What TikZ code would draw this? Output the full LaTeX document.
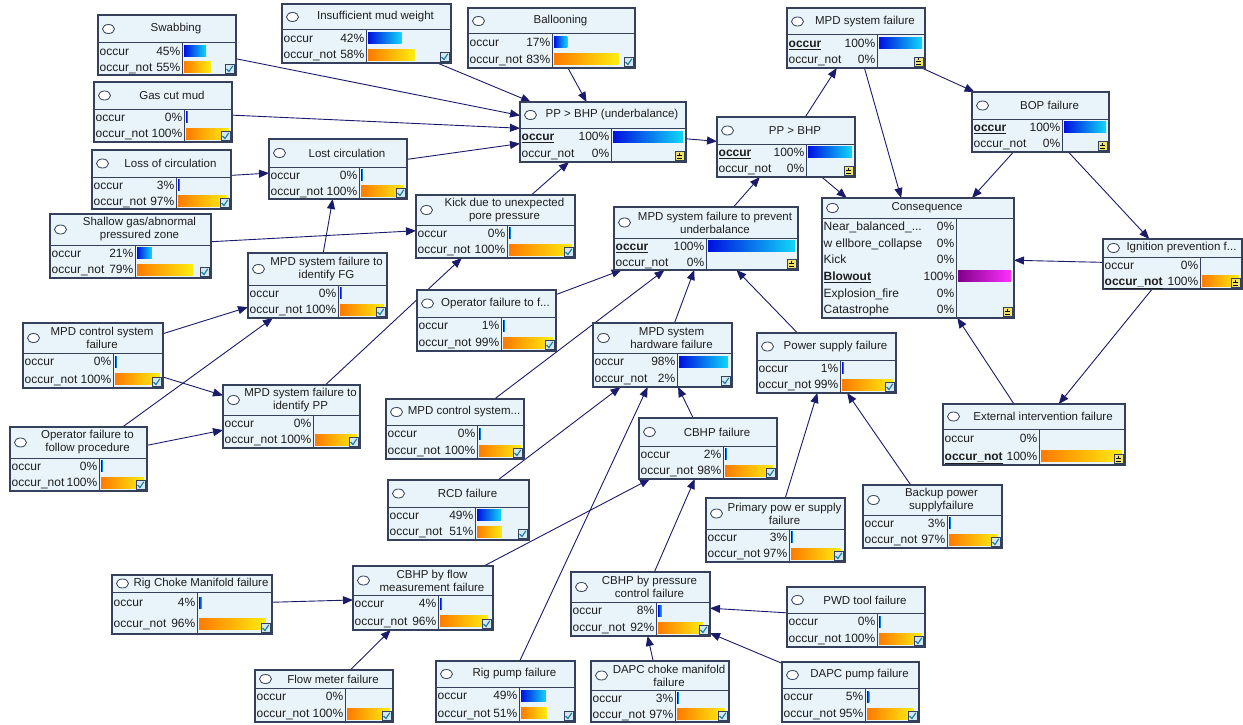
\documentclass[tikz,border=0pt]{standalone}
\usepackage{fontspec}
\setmainfont{Liberation Sans}
\usetikzlibrary{arrows.meta,backgrounds}
\definecolor{bfill}{HTML}{E8F4F9}
\definecolor{bdr}{HTML}{35405C}
\definecolor{arc}{HTML}{1B1B6B}
\definecolor{bluA}{HTML}{0010E0}
\definecolor{bluB}{HTML}{10D8F8}
\definecolor{orA}{HTML}{FF7A00}
\definecolor{orB}{HTML}{FFEE10}
\definecolor{mgA}{HTML}{80008A}
\definecolor{mgB}{HTML}{FF30FF}
\definecolor{ckfill}{HTML}{D4E8F2}
\definecolor{cktick}{HTML}{1F7FA0}
\definecolor{evfill}{HTML}{F2E46A}
\definecolor{txt}{HTML}{1E1E1E}
\tikzset{
 box/.style={draw=bdr, line width=1.1pt, fill=bfill, rectangle, inner sep=0pt, outer sep=0pt, anchor=north west},
 bd/.style={draw=bdr, line width=1pt},
 ttl/.style={font=\fontsize{11.5}{13}\selectfont, align=center, inner sep=0pt, text=txt},
 lbl/.style={font=\fontsize{12}{13}\selectfont, inner sep=0pt, text=txt},
 arr/.style={draw=arc, line width=0.9pt, -{Triangle[length=10pt,width=8pt]}},
 ob/.style={left color=bluA, right color=bluB},
 oy/.style={left color=orA, right color=orB},
 mg/.style={left color=mgA, right color=mgB},
 nb/.style={}
}
\newcommand\bbox[8]{%
 \gdef\Bx{#2}\gdef\By{#3}\gdef\Bw{#4}\gdef\Bh{#5}\gdef\Bt{#6}\gdef\Bd{#7}%
 \node[box, minimum width=#4pt, minimum height=#5pt] (#1) at (#2,#3) {};
 \begin{scope}[shift={(#2,#3)}]
  \draw[bd] (0,#6) -- (#4,#6);
  \draw[bd] (#7,#6) -- (#7,#5);
  \draw[draw=bdr, fill=white, line width=0.8pt] (10.5,{#6/2}) ellipse [x radius=6pt, y radius=4.5pt];
  \node[ttl] at ({(#4+18)/2},{#6/2}) {#8};
 \end{scope}}
\newcommand\brow[5]{%
 \begin{scope}[shift={(\Bx,\By)}]
  \pgfmathsetmacro\Ry{\Bt+(\Bh-\Bt)*(#1-0.5)/#2}
  \pgfmathsetmacro\Rl{max(#4*(\Bw-\Bd-5)/100,1.8)}
  \node[lbl, anchor=base west] at (1.5,\Ry+4.2) {#3};
  \node[lbl, anchor=base east] at (\Bd-1.5,\Ry+4.2) {#4\%};
  \path[#5] (\Bd+2,\Ry-5.5) rectangle ({\Bd+2+\Rl},\Ry+5.5);
 \end{scope}}
\newcommand\bck{%
 \begin{scope}[shift={(\Bx,\By)}]
  \draw[draw=bdr, fill=ckfill, line width=0.6pt] (\Bw-11,\Bh-11) rectangle (\Bw-2,\Bh-2);
  \draw[draw=cktick, line width=1.2pt] (\Bw-9.5,\Bh-6) -- (\Bw-7,\Bh-3.5) -- (\Bw-3.2,\Bh-9.2);
 \end{scope}}
\newcommand\bev{%
 \begin{scope}[shift={(\Bx,\By)}]
  \draw[draw=bdr, fill=evfill, line width=0.6pt] (\Bw-11,\Bh-11) rectangle (\Bw-2,\Bh-2);
  \draw[draw=black, line width=0.8pt] (\Bw-9,\Bh-6.5) -- (\Bw-4,\Bh-6.5) (\Bw-6.5,\Bh-9.5) -- (\Bw-6.5,\Bh-7.5) (\Bw-9,\Bh-4) -- (\Bw-4,\Bh-4);
 \end{scope}}
\begin{document}
\begin{tikzpicture}[x=1pt,y=-1pt]
\useasboundingbox (0,0) rectangle (1243,725);
\begin{pgfonlayer}{background}
\fill[white] (0,0) rectangle (1243,725);
\end{pgfonlayer}

\bbox{swab}{98}{15}{138}{60}{28}{84}{Swabbing}
\brow{1}{2}{occur}{45}{ob}\brow{2}{2}{occur\_not}{55}{oy}\bck

\bbox{ins}{282}{4}{169}{59}{26}{84}{Insufficient mud weight}
\brow{1}{2}{occur}{42}{ob}\brow{2}{2}{occur\_not}{58}{oy}\bck

\bbox{gas}{94}{82}{138}{60}{27}{90}{Gas cut mud}
\brow{1}{2}{occur}{0}{ob}\brow{2}{2}{occur\_not}{100}{oy}\bck

\bbox{loss}{92}{150}{139}{59}{27}{84}{Loss of circulation}
\brow{1}{2}{occur}{3}{ob}\brow{2}{2}{occur\_not}{97}{oy}\bck

\bbox{lost}{269}{139}{138}{60}{28}{90}{Lost circulation}
\brow{1}{2}{occur}{0}{ob}\brow{2}{2}{occur\_not}{100}{oy}\bck

\bbox{shal}{50}{214}{161}{64}{31}{85}{Shallow gas/abnormal\\pressured zone}
\brow{1}{2}{occur}{21}{ob}\brow{2}{2}{occur\_not}{79}{oy}\bck

\bbox{ball}{468}{8}{167}{60}{26}{84}{Ballooning}
\brow{1}{2}{occur}{17}{ob}\brow{2}{2}{occur\_not}{83}{oy}\bck

\bbox{ppu}{520}{102}{166}{60}{26}{91}{PP > BHP (underbalance)}
\brow{1}{2}{\underline{\textbf{occur}}}{100}{ob}\brow{2}{2}{occur\_not}{0}{nb}\bev

\bbox{pp}{717}{117}{138}{60}{27}{89}{PP > BHP}
\brow{1}{2}{\underline{\textbf{occur}}}{100}{ob}\brow{2}{2}{occur\_not}{0}{nb}\bev

\bbox{mpdf}{787}{8}{138}{60}{27}{90}{MPD system failure}
\brow{1}{2}{\underline{\textbf{occur}}}{100}{ob}\brow{2}{2}{occur\_not}{0}{nb}\bev

\bbox{bop}{972}{92}{137}{60}{27}{90}{BOP failure}
\brow{1}{2}{\underline{\textbf{occur}}}{100}{ob}\brow{2}{2}{occur\_not}{0}{nb}\bev

\bbox{cons}{822}{198}{192}{120}{20}{134}{Consequence}
\brow{1}{6}{Near\_balanced\_...}{0}{nb}
\brow{2}{6}{w ellbore\_collapse}{0}{nb}
\brow{3}{6}{Kick}{0}{nb}
\brow{4}{6}{\underline{\textbf{Blowout}}}{100}{mg}
\brow{5}{6}{Explosion\_fire}{0}{nb}
\brow{6}{6}{Catastrophe}{0}{nb}\bev

\bbox{ign}{1103}{239}{139}{50}{18}{97}{Ignition prevention f...}
\brow{1}{2}{occur}{0}{nb}\brow{2}{2}{\underline{\textbf{occur\_not}}}{100}{oy}\bev

\bbox{ext}{943}{404}{182}{61}{25}{96}{External intervention failure}
\brow{1}{2}{occur}{0}{nb}\brow{2}{2}{\underline{\textbf{occur\_not}}}{100}{oy}\bev

\bbox{kick}{416}{195}{159}{63}{30}{91}{Kick due to unexpected\\pore pressure}
\brow{1}{2}{occur}{0}{ob}\brow{2}{2}{occur\_not}{100}{oy}\bck

\bbox{prev}{614}{207}{184}{63}{31}{92}{MPD system failure to prevent\\underbalance}
\brow{1}{2}{\underline{\textbf{occur}}}{100}{ob}\brow{2}{2}{occur\_not}{0}{nb}\bev

\bbox{opf}{417}{290}{139}{61}{27}{84}{Operator failure to f...}
\brow{1}{2}{occur}{1}{ob}\brow{2}{2}{occur\_not}{99}{oy}\bck

\bbox{hw}{593}{323}{139}{64}{30}{84}{MPD system\\hardware failure}
\brow{1}{2}{occur}{98}{ob}\brow{2}{2}{occur\_not}{2}{nb}\bck

\bbox{pow}{757}{333}{139}{60}{27}{83}{Power supply failure}
\brow{1}{2}{occur}{1}{ob}\brow{2}{2}{occur\_not}{99}{oy}\bck

\bbox{mcs}{386}{399}{138}{60}{26}{91}{MPD control system...}
\brow{1}{2}{occur}{0}{ob}\brow{2}{2}{occur\_not}{100}{oy}\bck

\bbox{fg}{248}{253}{139}{65}{32}{90}{MPD system failure to\\identify FG}
\brow{1}{2}{occur}{0}{ob}\brow{2}{2}{occur\_not}{100}{oy}\bck

\bbox{mcf}{23}{323}{140}{65}{30}{90}{MPD control system\\failure}
\brow{1}{2}{occur}{0}{ob}\brow{2}{2}{occur\_not}{100}{oy}\bck

\bbox{ipp}{223}{385}{137}{63}{30}{90}{MPD system failure to\\identify PP}
\brow{1}{2}{occur}{0}{nb}\brow{2}{2}{occur\_not}{100}{oy}\bck

\bbox{ofp}{10}{427}{137}{64}{31}{89}{Operator failure to\\follow procedure}
\brow{1}{2}{occur}{0}{ob}\brow{2}{2}{occur\_not}{100}{oy}\bck

\bbox{cbhp}{639}{418}{138}{61}{28}{84}{CBHP failure}
\brow{1}{2}{occur}{2}{ob}\brow{2}{2}{occur\_not}{98}{oy}\bck

\bbox{rcd}{388}{480}{141}{60}{27}{87}{RCD failure}
\brow{1}{2}{occur}{49}{ob}\brow{2}{2}{occur\_not}{51}{oy}\bck

\bbox{ppow}{706}{498}{139}{64}{31}{83}{Primary pow er supply\\failure}
\brow{1}{2}{occur}{3}{ob}\brow{2}{2}{occur\_not}{97}{oy}\bck

\bbox{bpow}{863}{485}{139}{63}{30}{84}{Backup power\\supplyfailure}
\brow{1}{2}{occur}{3}{ob}\brow{2}{2}{occur\_not}{97}{oy}\bck

\bbox{rcm}{112}{575}{160}{59}{17}{85}{Rig Choke Manifold failure}
\brow{1}{2}{occur}{4}{ob}\brow{2}{2}{occur\_not}{96}{oy}\bck

\bbox{flow}{353}{566}{140}{64}{29}{85}{CBHP by flow\\measurement failure}
\brow{1}{2}{occur}{4}{ob}\brow{2}{2}{occur\_not}{96}{oy}\bck

\bbox{pcf}{571}{572}{139}{64}{30}{85}{CBHP by pressure\\control failure}
\brow{1}{2}{occur}{8}{ob}\brow{2}{2}{occur\_not}{92}{oy}\bck

\bbox{pwd}{787}{587}{138}{60}{26}{90}{PWD tool failure}
\brow{1}{2}{occur}{0}{ob}\brow{2}{2}{occur\_not}{100}{oy}\bck

\bbox{dapcp}{782}{662}{137}{60}{26}{83}{DAPC pump failure}
\brow{1}{2}{occur}{5}{ob}\brow{2}{2}{occur\_not}{95}{oy}\bck

\bbox{fm}{255}{670}{138}{52}{18}{90}{Flow meter failure}
\brow{1}{2}{occur}{0}{nb}\brow{2}{2}{occur\_not}{100}{oy}\bck

\bbox{rp}{436}{661}{139}{61}{26}{83}{Rig pump failure}
\brow{1}{2}{occur}{49}{ob}\brow{2}{2}{occur\_not}{51}{oy}\bck

\bbox{dcm}{591}{661}{138}{61}{29}{84}{DAPC choke manifold\\failure}
\brow{1}{2}{occur}{3}{ob}\brow{2}{2}{occur\_not}{97}{oy}\bck

\begin{pgfonlayer}{background}
\foreach \a/\b in {swab/ppu, ins/ppu, gas/ppu, lost/ppu, ball/ppu, kick/ppu, ppu/pp, prev/pp,
  pp/mpdf, pp/cons, mpdf/cons, mpdf/bop, bop/cons, bop/ign, ign/cons, ign/ext, ext/cons,
  loss/lost, fg/lost, shal/kick, ipp/kick, mcf/fg, mcf/ipp, ofp/fg, ofp/ipp,
  opf/prev, mcs/prev, hw/prev, pow/prev, rcd/hw, rp/hw, cbhp/hw, ppow/pow, bpow/pow,
  flow/cbhp, pcf/cbhp, rcm/flow, fm/flow, pwd/pcf, dcm/pcf, dapcp/pcf}
  \draw[arr] (\a) -- (\b);
\end{pgfonlayer}
\end{tikzpicture}
\end{document}
